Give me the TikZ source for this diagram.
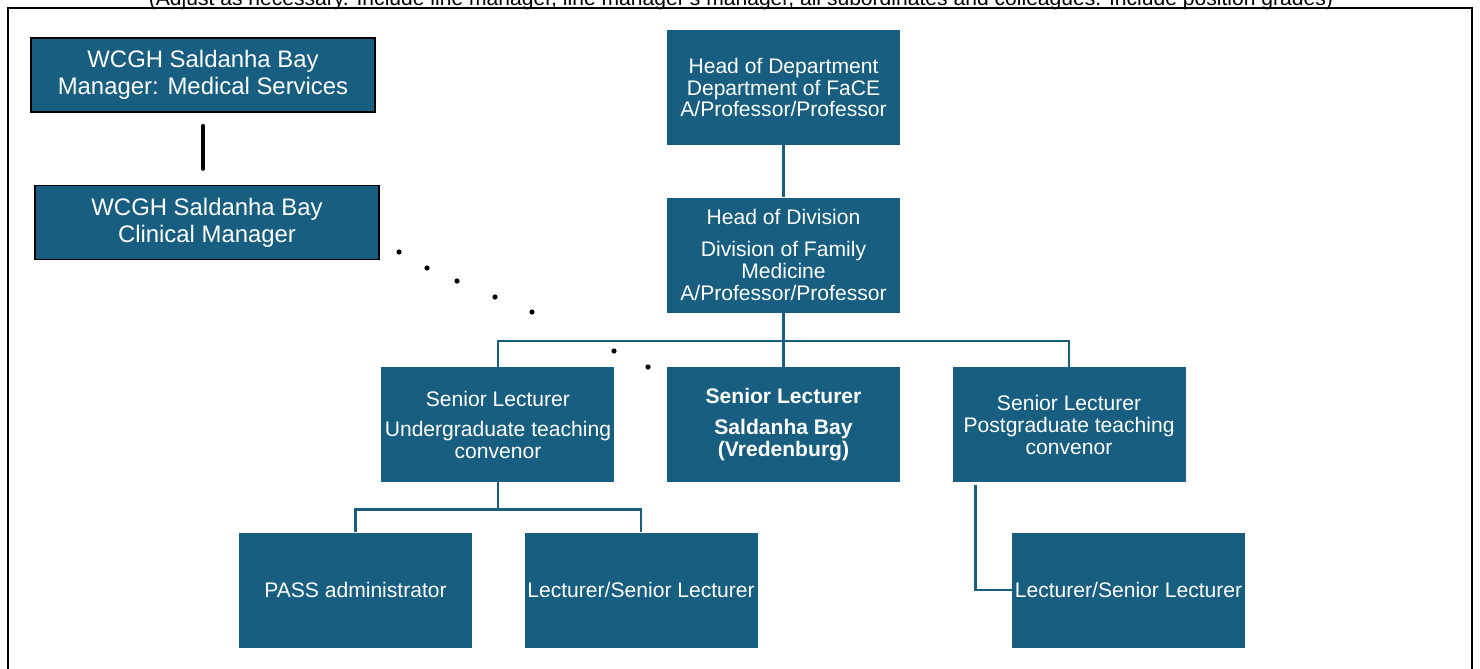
\documentclass[tikz,border=0pt]{standalone}
\usepackage{fontspec}
\setmainfont{Liberation Sans}
\usetikzlibrary{positioning}
\definecolor{dblue}{RGB}{23,94,128}
\tikzset{
    block/.style={
        rectangle,
        minimum width=5.825cm, minimum height=2.875cm,
        align=center, inner sep=1pt,
        fill=dblue, text=white,
        font=\fontsize{15}{15.6}\selectfont
    },
    extblock/.style={
        block,
        draw=black, line width=1pt,
        minimum width=8.6cm, minimum height=1.85cm,
        font=\fontsize{17}{19.2}\selectfont
    },
    connector/.style={
        draw=dblue,
        line width=1.8pt
    },
    frame/.style={
        line width=1.5pt
    }
}

\begin{document}
\begin{tikzpicture}
    \useasboundingbox (0,0) rectangle (37,-16.7);
    % heading (cut off at the top of the page)
    \node (note) [anchor=base, font=\fontsize{15}{15.6}\selectfont] at (18.525,-0.125)
        {(Adjust as necessary. Include line manager, line manager's manager, all subordinates and colleagues. Include position grades)};
    \draw[frame] (0.2,-0.2) rectangle (36.8,-17.2);

    % hospital side
    \node[extblock] (mgrmed) at (5.075,-1.875) {WCGH Saldanha Bay\\Manager: Medical Services};
    \node[extblock] (clinmgr) at (5.175,-5.5625) {WCGH Saldanha Bay\\Clinical Manager};
    \draw[line width=3.5pt, line cap=round] ([yshift=-0.34cm]mgrmed.south) -- ([yshift=0.41cm]mgrmed.south |- clinmgr.north);

    % university side
    \node[block] (hod) at (19.5875,-2.1875) {Head of Department\\Department of FaCE\\A/Professor/Professor};
    \node[block, below=1.3cm of hod] (hodiv) {Head of Division\\[7pt]Division of Family\\Medicine\\A/Professor/Professor};
    \node[block, below=1.35cm of hodiv] (slsal) {\textbf{Senior Lecturer}\\[7pt]\textbf{Saldanha Bay}\\\textbf{(Vredenburg)}};
    \node[block, left=1.3cm of slsal] (slug) {Senior Lecturer\\[6pt]Undergraduate teaching\\convenor};
    \node[block, right=1.3cm of slsal] (slpg) {Senior Lecturer\\Postgraduate teaching\\convenor};
    \node[block] (pass) at (8.8875,-14.75) {PASS administrator};
    \node[block, right=1.3cm of pass] (lect1) {Lecturer/Senior Lecturer};
    \node[block] (lect2) at (28.2125,-14.75) {Lecturer/Senior Lecturer};

    \draw[connector] (hod.south) -- (hodiv.north);
    \draw[connector] (hodiv.south) -- ++(0,-0.7) -| (slug.north);
    \draw[connector] (hodiv.south) -- ++(0,-0.7) -| (slpg.north);
    \draw[connector] (hodiv.south) -- (slsal.north);
    \draw[connector] (slug.south) -- ++(0,-0.675) -| (pass.north);
    \draw[connector] (slug.south) -- ++(0,-0.675) -| (lect1.north);
    \draw[connector] (lect2.west) -| ([xshift=0.575cm,yshift=-0.07cm]slpg.south west);

    % dotted link clinical manager -> Saldanha Bay post
    \foreach \x/\y in {9.975/6.3, 10.675/6.7, 11.425/7.025, 12.375/7.425, 13.3/7.8, 15.35/8.775, 16.2/9.175}
        \fill (\x,-\y) circle (0.065cm);
\end{tikzpicture}
\end{document}
